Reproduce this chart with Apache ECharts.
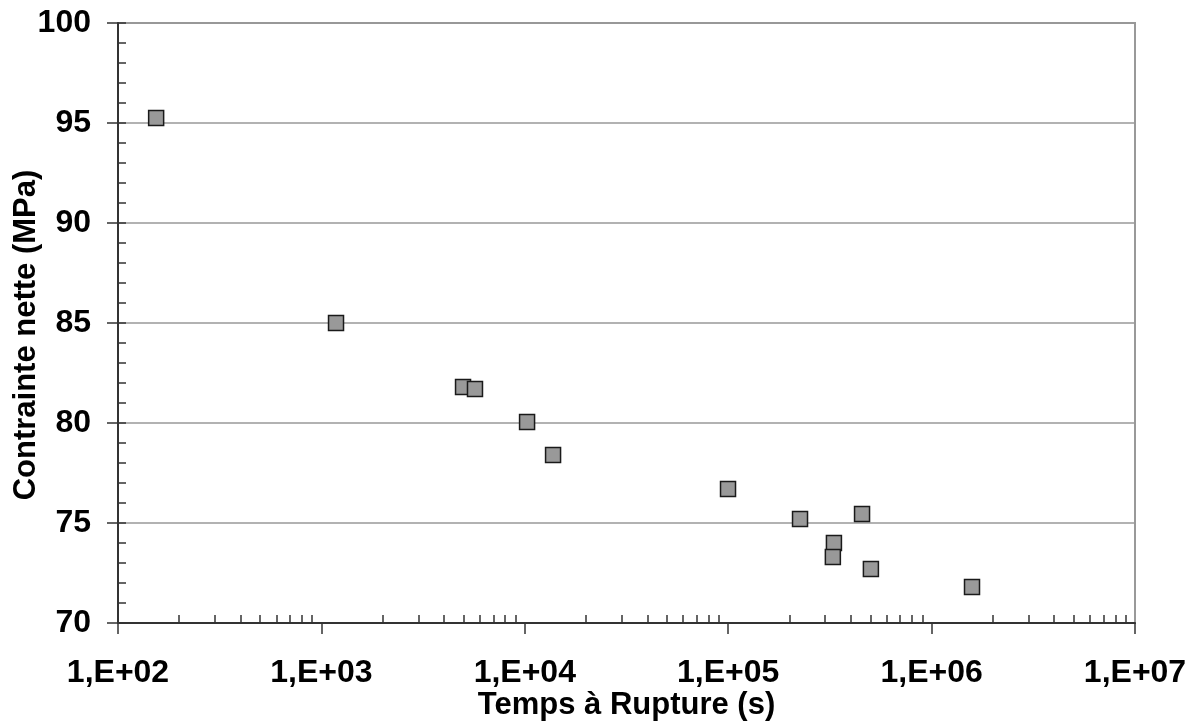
<!DOCTYPE html>
<html>
<head>
<meta charset="utf-8">
<script src="https://cdn.jsdelivr.net/npm/echarts@6/dist/echarts.min.js"></script>
<style>
  html, body { margin: 0; padding: 0; background: #fff; }
  #chart { width: 1198px; height: 722px; }
</style>
</head>
<body>
<div id="chart"></div>
<script>
// Temps à rupture (s) / contrainte nette (MPa)
const ruptureTimes = [154, 1180, 4970, 5690, 10260, 13770, 99800, 225500, 455000, 331000, 327000, 503000, 1580000];
const netStress = [95.25, 85.0, 81.8, 81.7, 80.05, 78.4, 76.7, 75.2, 75.45, 74.0, 73.3, 72.7, 71.8];

// minor ticks 2..9 in each decade
const decades = [100, 1000, 10000, 100000, 1000000];
const minorTicks = [];
decades.forEach((d) => {
  for (let k = 2; k <= 9; k++) minorTicks.push(d * k);
});

const chart = echarts.init(document.getElementById("chart"));
const font = "Liberation Sans, Arial, sans-serif";
const axisColor = "#333";

chart.setOption({
  animation: false,
  grid: {
    left: 118,
    right: 63,
    top: 23,
    bottom: 99,
    outerBoundsMode: "none",
    containLabel: false,
    show: true,
    borderColor: "#999",
    borderWidth: 2,
  },
  xAxis: [
    {
      type: "log",
      logBase: 10,
      min: 100,
      max: 10000000,
      position: "bottom",
      name: "Temps à Rupture (s)",
      nameLocation: "middle",
      nameGap: 67,
      nameMoveOverlap: false,
      nameTextStyle: { fontFamily: font, fontWeight: "bold", fontSize: 31, color: "#000" },
      axisLine: { lineStyle: { color: axisColor, width: 2 } },
      axisTick: { length: 11, lineStyle: { color: axisColor, width: 1.5 } },
      axisLabel: {
        fontFamily: font,
        fontWeight: "bold",
        fontSize: 32,
        color: "#000",
        margin: 34,
        formatter: (v) => "1,E+" + String(Math.round(Math.log10(v))).padStart(2, "0"),
      },
      splitLine: { show: false },
    },
    {
      type: "log",
      logBase: 10,
      min: 100,
      max: 10000000,
      position: "bottom",
      axisLine: { show: false },
      axisTick: {
        inside: true,
        length: 8,
        customValues: minorTicks,
        lineStyle: { color: axisColor, width: 1.5 },
      },
      axisLabel: { show: false },
      splitLine: { show: false },
    },
  ],
  yAxis: [
    {
      type: "value",
      min: 70,
      max: 100,
      interval: 5,
      position: "left",
      name: "Contrainte nette (MPa)",
      nameLocation: "middle",
      nameGap: 76,
      nameMoveOverlap: false,
      nameTextStyle: {
        fontFamily: font,
        fontWeight: "bold",
        fontSize: 31,
        color: "#000",
        padding: [0, 24, 0, 0],
      },
      axisLine: { show: true, lineStyle: { color: axisColor, width: 2 } },
      axisTick: { show: true, length: 11, lineStyle: { color: axisColor, width: 1.5 } },
      axisLabel: { fontFamily: font, fontWeight: "bold", fontSize: 32, color: "#000", margin: 27 },
      splitLine: { show: true, lineStyle: { color: "#999", width: 1.5 } },
    },
    {
      type: "value",
      min: 70,
      max: 100,
      interval: 5,
      position: "left",
      axisLine: { show: false },
      axisTick: { show: true, inside: true, length: 8, lineStyle: { color: axisColor, width: 1.5 } },
      minorTick: { show: true, splitNumber: 5, length: 8, lineStyle: { color: axisColor, width: 1.5 } },
      axisLabel: { show: false },
      splitLine: { show: false },
    },
  ],
  series: [
    {
      type: "scatter",
      xAxisIndex: 0,
      yAxisIndex: 0,
      symbol: "rect",
      symbolSize: 15,
      itemStyle: { color: "#999999", borderColor: "#1a1a1a", borderWidth: 1.5, opacity: 1 },
      data: ruptureTimes.map((t, i) => [t, netStress[i]]),
    },
  ],
});
</script>
</body>
</html>
